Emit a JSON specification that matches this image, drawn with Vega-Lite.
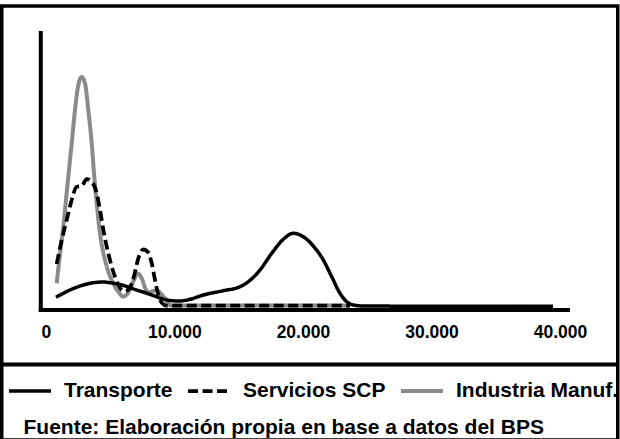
{
  "$schema": "https://vega.github.io/schema/vega-lite/v6.json",
  "width": 616,
  "height": 434,
  "autosize": {"type": "none"},
  "padding": {"left": 1.75, "top": 6, "right": 2.25, "bottom": 0},
  "background": "white",
  "view": {"stroke": "black", "strokeWidth": 3.5},
  "datasets": {
    "density": [
      {"s": "Industria Manuf.", "x": 848, "d": 23.2},
      {"s": "Industria Manuf.", "x": 1050, "d": 46.5},
      {"s": "Industria Manuf.", "x": 1361, "d": 79.8},
      {"s": "Industria Manuf.", "x": 1672, "d": 119.8},
      {"s": "Industria Manuf.", "x": 2015, "d": 163.2},
      {"s": "Industria Manuf.", "x": 2271, "d": 196.5},
      {"s": "Industria Manuf.", "x": 2528, "d": 221.5},
      {"s": "Industria Manuf.", "x": 2793, "d": 229.5},
      {"s": "Industria Manuf.", "x": 3049, "d": 223.2},
      {"s": "Industria Manuf.", "x": 3306, "d": 196.5},
      {"s": "Industria Manuf.", "x": 3571, "d": 163.2},
      {"s": "Industria Manuf.", "x": 3773, "d": 129.8},
      {"s": "Industria Manuf.", "x": 3960, "d": 103.2},
      {"s": "Industria Manuf.", "x": 4216, "d": 73.2},
      {"s": "Industria Manuf.", "x": 4605, "d": 46.5},
      {"s": "Industria Manuf.", "x": 5126, "d": 26.5},
      {"s": "Industria Manuf.", "x": 5640, "d": 14.8},
      {"s": "Industria Manuf.", "x": 6005, "d": 10.0},
      {"s": "Industria Manuf.", "x": 6420, "d": 14.0},
      {"s": "Industria Manuf.", "x": 6800, "d": 25.0},
      {"s": "Industria Manuf.", "x": 7172, "d": 33.0},
      {"s": "Industria Manuf.", "x": 7500, "d": 27.0},
      {"s": "Industria Manuf.", "x": 7780, "d": 17.0},
      {"s": "Industria Manuf.", "x": 8050, "d": 14.0},
      {"s": "Industria Manuf.", "x": 8350, "d": 15.5},
      {"s": "Industria Manuf.", "x": 8627, "d": 16.0},
      {"s": "Industria Manuf.", "x": 8950, "d": 13.0},
      {"s": "Industria Manuf.", "x": 9273, "d": 8.0},
      {"s": "Industria Manuf.", "x": 9662, "d": 1.5},
      {"s": "Industria Manuf.", "x": 9918, "d": 1.0},
      {"s": "Industria Manuf.", "x": 11000, "d": 1.0},
      {"s": "Industria Manuf.", "x": 14000, "d": 1.0},
      {"s": "Industria Manuf.", "x": 18000, "d": 1.0},
      {"s": "Industria Manuf.", "x": 23665, "d": 1.0},
      {"s": "Servicios SCP", "x": 848, "d": 42.5},
      {"s": "Servicios SCP", "x": 1237, "d": 66.5},
      {"s": "Servicios SCP", "x": 1626, "d": 86.5},
      {"s": "Servicios SCP", "x": 2015, "d": 106.5},
      {"s": "Servicios SCP", "x": 2404, "d": 119.8},
      {"s": "Servicios SCP", "x": 2793, "d": 120.5},
      {"s": "Servicios SCP", "x": 3182, "d": 127.5},
      {"s": "Servicios SCP", "x": 3571, "d": 124.8},
      {"s": "Servicios SCP", "x": 3960, "d": 113.2},
      {"s": "Servicios SCP", "x": 4216, "d": 96.5},
      {"s": "Servicios SCP", "x": 4527, "d": 73.2},
      {"s": "Servicios SCP", "x": 4862, "d": 53.2},
      {"s": "Servicios SCP", "x": 5251, "d": 34.8},
      {"s": "Servicios SCP", "x": 5640, "d": 21.5},
      {"s": "Servicios SCP", "x": 6029, "d": 15.5},
      {"s": "Servicios SCP", "x": 6400, "d": 16.5},
      {"s": "Servicios SCP", "x": 6861, "d": 30.5},
      {"s": "Servicios SCP", "x": 7196, "d": 48.2},
      {"s": "Servicios SCP", "x": 7585, "d": 57.2},
      {"s": "Servicios SCP", "x": 7974, "d": 53.8},
      {"s": "Servicios SCP", "x": 8238, "d": 43.2},
      {"s": "Servicios SCP", "x": 8495, "d": 26.5},
      {"s": "Servicios SCP", "x": 8751, "d": 11.5},
      {"s": "Servicios SCP", "x": 9016, "d": 3.8},
      {"s": "Servicios SCP", "x": 9405, "d": 1.0},
      {"s": "Servicios SCP", "x": 12000, "d": 1.0},
      {"s": "Servicios SCP", "x": 18000, "d": 1.0},
      {"s": "Servicios SCP", "x": 23665, "d": 1.0},
      {"s": "Transporte", "x": 793, "d": 9.2},
      {"s": "Transporte", "x": 1883, "d": 16.5},
      {"s": "Transporte", "x": 2917, "d": 21.5},
      {"s": "Transporte", "x": 3438, "d": 23.2},
      {"s": "Transporte", "x": 4473, "d": 24.5},
      {"s": "Transporte", "x": 4994, "d": 23.8},
      {"s": "Transporte", "x": 5772, "d": 22.0},
      {"s": "Transporte", "x": 7071, "d": 16.5},
      {"s": "Transporte", "x": 8362, "d": 11.0},
      {"s": "Transporte", "x": 8884, "d": 8.5},
      {"s": "Transporte", "x": 9662, "d": 6.0},
      {"s": "Transporte", "x": 10440, "d": 5.5},
      {"s": "Transporte", "x": 11218, "d": 7.2},
      {"s": "Transporte", "x": 12252, "d": 11.5},
      {"s": "Transporte", "x": 13808, "d": 15.8},
      {"s": "Transporte", "x": 15107, "d": 19.8},
      {"s": "Transporte", "x": 15753, "d": 24.8},
      {"s": "Transporte", "x": 16663, "d": 36.5},
      {"s": "Transporte", "x": 17573, "d": 53.2},
      {"s": "Transporte", "x": 18475, "d": 67.2},
      {"s": "Transporte", "x": 19253, "d": 73.2},
      {"s": "Transporte", "x": 20031, "d": 69.8},
      {"s": "Transporte", "x": 20809, "d": 60.5},
      {"s": "Transporte", "x": 21587, "d": 46.5},
      {"s": "Transporte", "x": 22240, "d": 29.8},
      {"s": "Transporte", "x": 22886, "d": 13.2},
      {"s": "Transporte", "x": 23407, "d": 4.8},
      {"s": "Transporte", "x": 23921, "d": 1.5},
      {"s": "Transporte", "x": 24699, "d": 0.5},
      {"s": "Transporte", "x": 30000, "d": 0.3},
      {"s": "Transporte", "x": 35000, "d": 0.3},
      {"s": "Transporte", "x": 39457, "d": 0.3}
    ],
    "source": [
      {"t": "Fuente: Elaboración propia en base a datos del BPS"}
    ]
  },
  "layer": [
    {
      "data": {"values": [{}]},
      "mark": {"type": "rule", "color": "black", "strokeWidth": 4},
      "encoding": {
        "y": {"datum": -58, "scale": {"domain": [-133.5, 300.5], "nice": false, "zero": false}, "axis": null}
      }
    },
    {
      "data": {"name": "density"},
      "mark": {"type": "line", "interpolate": "monotone"},
      "encoding": {
        "x": {
          "field": "x", "type": "quantitative",
          "scale": {"domain": [-3427, 44492], "nice": false, "zero": false},
          "axis": {
            "title": null, "values": [0, 10000, 20000, 30000, 40000],
            "labelExpr": "replace(format(datum.value, ','), ',', '.')",
            "orient": "bottom", "offset": -117, "domain": false, "ticks": false, "tickSize": 0,
            "labelPadding": 0, "grid": false, "labelFont": "Liberation Sans", "labelFontWeight": "bold",
            "labelFontSize": 17.5, "labelColor": "black", "labelFlush": false, "labelOverlap": false
          }
        },
        "y": {"field": "d", "type": "quantitative", "scale": {"domain": [-133.5, 300.5], "nice": false, "zero": false}, "axis": null},
        "color": {
          "field": "s", "type": "nominal",
          "scale": {"domain": ["Transporte", "Servicios SCP", "Industria Manuf."], "range": ["#000000", "#000000", "#8a8a8a"]},
          "legend": {
            "title": null, "orient": "none", "legendX": 5.25, "legendY": 362, "direction": "horizontal",
            "gridAlign": "none",
            "symbolType": "stroke", "symbolSize": 1764, "symbolStrokeWidth": 5.5, "labelOffset": 11, "columnPadding": 7,
            "labelFont": "Liberation Sans", "labelFontWeight": "bold", "labelFontSize": 21, "labelColor": "black",
            "labelLimit": 0, "padding": 0
          }
        },
        "strokeDash": {
          "field": "s", "type": "nominal",
          "scale": {"domain": ["Transporte", "Servicios SCP", "Industria Manuf."], "range": [[1, 0], [10, 4.5], [1, 0]]},
          "legend": {
            "title": null, "orient": "none", "legendX": 5.25, "legendY": 362, "direction": "horizontal",
            "gridAlign": "none",
            "symbolType": "stroke", "symbolSize": 1764, "symbolStrokeWidth": 5.5, "labelOffset": 11, "columnPadding": 7,
            "labelFont": "Liberation Sans", "labelFontWeight": "bold", "labelFontSize": 21, "labelColor": "black",
            "labelLimit": 0, "padding": 0
          }
        },
        "strokeWidth": {
          "field": "s", "type": "ordinal",
          "scale": {"domain": ["Transporte", "Servicios SCP", "Industria Manuf."], "range": [3.5, 4, 4.5]},
          "legend": null
        }
      }
    },
    {
      "data": {"values": [{}]},
      "mark": {"type": "rule", "color": "black", "strokeWidth": 4},
      "encoding": {
        "x": {"datum": -389, "scale": {"domain": [-3427, 44492], "nice": false, "zero": false}, "axis": {"title": null}},
        "y": {"datum": -5.5, "scale": {"domain": [-133.5, 300.5], "nice": false, "zero": false}, "axis": null},
        "y2": {"datum": 275.5}
      }
    },
    {
      "data": {"values": [{}]},
      "mark": {"type": "rule", "color": "black", "strokeWidth": 4},
      "encoding": {
        "y": {"datum": -3.5, "scale": {"domain": [-133.5, 300.5], "nice": false, "zero": false}, "axis": null},
        "x": {"datum": -545, "scale": {"domain": [-3427, 44492], "nice": false, "zero": false}, "axis": {"title": null}},
        "x2": {"datum": 40778}
      }
    },
    {
      "data": {"name": "source"},
      "mark": {"type": "text", "align": "left", "baseline": "alphabetic", "font": "Liberation Sans", "fontWeight": "bold", "fontSize": 21, "color": "black"},
      "encoding": {
        "x": {"datum": -1735, "scale": {"domain": [-3427, 44492], "nice": false, "zero": false}, "axis": {"title": null}},
        "y": {"datum": -127.5, "scale": {"domain": [-133.5, 300.5], "nice": false, "zero": false}, "axis": null},
        "text": {"field": "t"}
      }
    }
  ]
}
